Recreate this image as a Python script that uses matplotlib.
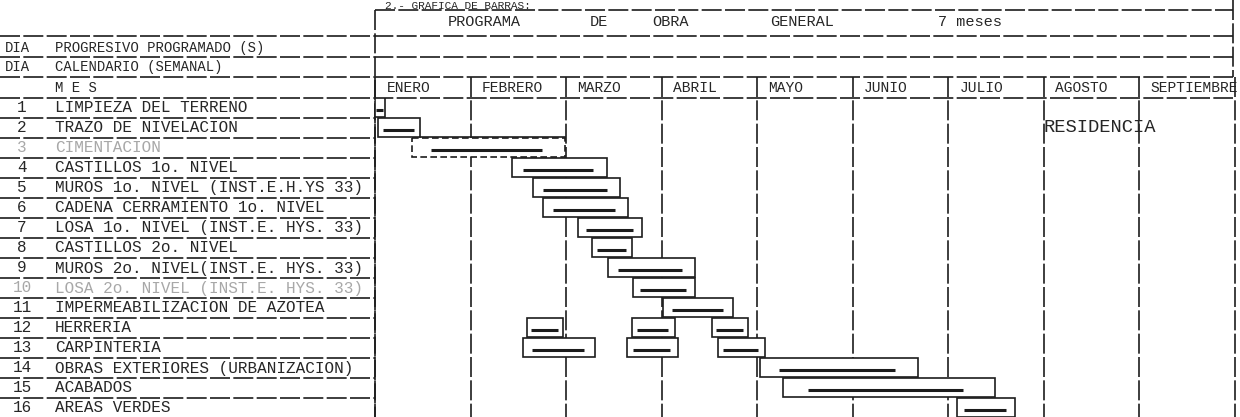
import matplotlib
matplotlib.use("Agg")
import matplotlib.pyplot as plt
from matplotlib.patches import Rectangle
from matplotlib import transforms

# ---------------- data ----------------
title = "2.- GRAFICA DE BARRAS:"
header_words = ["PROGRAMA", "DE", "OBRA", "GENERAL", "7 meses"]
header_rows = [("DIA", "PROGRESIVO PROGRAMADO (S)"),
               ("DIA", "CALENDARIO (SEMANAL)"),
               ("", "M E S")]
months = ["ENERO", "FEBRERO", "MARZO", "ABRIL", "MAYO", "JUNIO",
          "JULIO", "AGOSTO", "SEPTIEMBRE"]
activities = [
    "LIMPIEZA DEL TERRENO",
    "TRAZO DE NIVELACION",
    "CIMENTACION",
    "CASTILLOS 1o. NIVEL",
    "MUROS 1o. NIVEL (INST.E.H.YS 33)",
    "CADENA CERRAMIENTO 1o. NIVEL",
    "LOSA 1o. NIVEL (INST.E. HYS. 33)",
    "CASTILLOS 2o. NIVEL",
    "MUROS 2o. NIVEL(INST.E. HYS. 33)",
    "LOSA 2o. NIVEL (INST.E. HYS. 33)",
    "IMPERMEABILIZACION DE AZOTEA",
    "HERRERIA",
    "CARPINTERIA",
    "OBRAS EXTERIORES (URBANIZACION)",
    "ACABADOS",
    "AREAS VERDES",
]
# bar segments: activity number, start month, end month (0 = start of ENERO)
bar_rows   = [1, 2, 3, 4, 5, 6, 7, 8, 9, 10, 11, 12, 12, 12, 13, 13, 13, 14, 15, 16]
bar_starts = [0.00, 0.03, 0.39, 1.43, 1.65, 1.76, 2.13, 2.27, 2.44, 2.70, 3.02,
              1.59, 2.69, 3.53, 1.55, 2.64, 3.59, 4.03, 4.27, 6.09]
bar_ends   = [0.10, 0.47, 1.99, 2.43, 2.57, 2.65, 2.80, 2.69, 3.35, 3.35, 3.75,
              1.97, 3.14, 3.91, 2.30, 3.17, 4.08, 5.69, 6.49, 6.70]
faint_rows = [3, 10]
note_text = "RESIDENCIA"

# ---------------- layout ----------------
W, H = 1240, 417
fig = plt.figure(figsize=(W / 100, H / 100), dpi=100)
fig.patch.set_facecolor("white")
bg = fig.add_axes([0, 0, 1, 1])
bg.set_xlim(0, W)
bg.set_ylim(H, 0)
bg.axis("off")

X0 = 375          # left edge of chart area (px)
TOP = 98          # top of chart body (px)
ROWH = 20         # px per activity row
MONW = 95.5       # px per month
ax = fig.add_axes([X0 / W, 0, (W - X0) / W, (H - TOP) / H])
ax.set_xlim(0, (W - X0) / MONW)
ax.set_ylim(0.5 + (H - TOP) / ROWH, 0.5)
ax.axis("off")

FONT = "Liberation Mono"
INK = "#1c1c1c"
TXT = "#262626"
LW = 1.2
DASH = (0, (12, 2))

# title (at the top edge of the page)
bg.text(385, 6, title, fontsize=8, family=FONT, color=TXT, va="center", ha="left")

# header box
bg.plot([X0, 1233], [10, 10], color=INK, lw=LW, ls=DASH)
bg.plot([1233, 1233], [0, 77], color=INK, lw=LW, ls=DASH)
bg.plot([X0, X0], [10, H], color=INK, lw=LW, ls=DASH)
for yy in (36, 57, 77, TOP):
    bg.plot([0, 1233], [yy, yy], color=INK, lw=LW, ls=DASH)
hx = [448, 590, 652, 770, 938]
for x, w in zip(hx, header_words):
    bg.text(x, 22, w, fontsize=11, family=FONT, color=TXT, va="center", ha="left")

# left header rows
for (a, b), yy in zip(header_rows, (48, 67, 88)):
    bg.text(5, yy, a, fontsize=10, family=FONT, color=TXT, va="center", ha="left")
    bg.text(55, yy, b, fontsize=10, family=FONT, color=TXT, va="center", ha="left")

# left table body
mix = transforms.blended_transform_factory(bg.transData, ax.transData)
for i, name in enumerate(activities, start=1):
    col = "#a8a8a8" if i in faint_rows else TXT
    ax.text(22, i, str(i), transform=mix, fontsize=11.5, family=FONT,
            color=col, va="center", ha="center", clip_on=False)
    ax.text(55, i, name, transform=mix, fontsize=11.5, family=FONT,
            color=col, va="center", ha="left", clip_on=False)
    ax.plot([0, X0], [i + 0.5, i + 0.5], transform=mix, color=INK, lw=LW,
            ls=DASH, clip_on=False)

# month grid and labels
nm = len(months)
ax.vlines(range(nm + 1), -0.55, 0.5 + (H - TOP) / ROWH, color=INK, lw=LW,
          linestyles=[DASH], clip_on=False)
for m, name in enumerate(months):
    ax.text(m + 0.12, 0.0, name, fontsize=10.5, family=FONT, color=TXT,
            va="center", ha="left", clip_on=False)

# bars
for r, s, e in zip(bar_rows, bar_starts, bar_ends):
    w = e - s
    ls = (0, (4, 2)) if r == 3 else "-"
    ax.add_patch(Rectangle((s, r - 0.5), w, 0.95, facecolor="white",
                           edgecolor=INK, lw=LW, linestyle=ls, zorder=3))
    ax.plot([s + 0.12 * w, e - 0.15 * w], [r + 0.1, r + 0.1], color=INK,
            lw=2.2, solid_capstyle="butt", zorder=4)

# connector line under the TRAZO bar
ax.plot([bar_ends[1], bar_ends[2]], [2.45, 2.45], color=INK, lw=LW, zorder=3)

ax.text(7.0, 2.0, note_text, fontsize=13.5, family=FONT, color=TXT,
        va="center", ha="left", zorder=5)

fig.savefig("out.png", dpi=100, facecolor="white")
